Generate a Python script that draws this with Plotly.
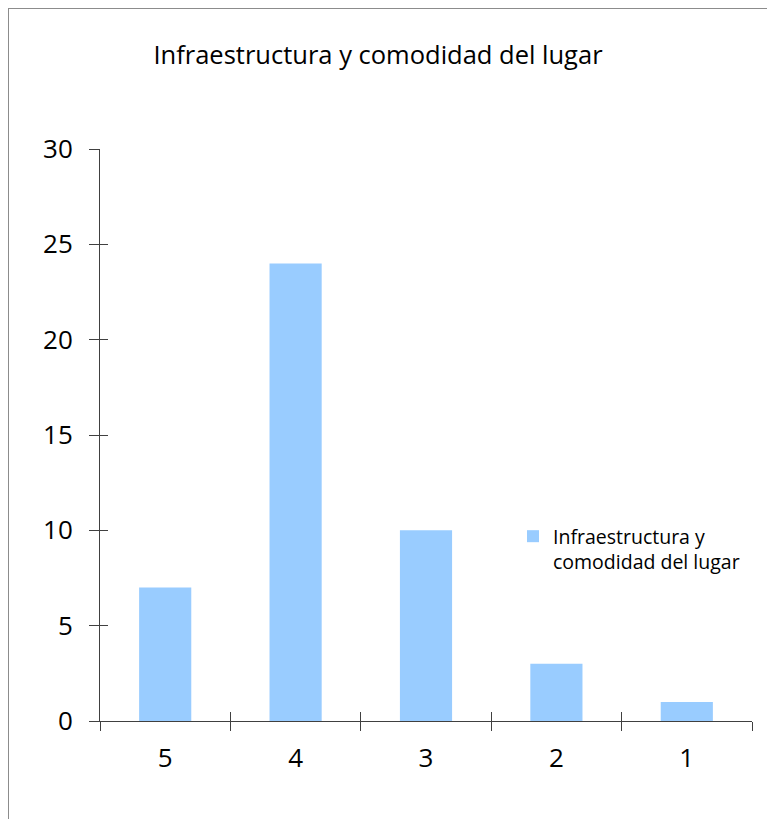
import plotly.graph_objects as go

# data
categories = ["5", "4", "3", "2", "1"]
values = [7, 24, 10, 3, 1]
series_name = "Infraestructura y comodidad del lugar"
legend_name = "Infraestructura y<br>comodidad del lugar"
y_ticks = [0, 5, 10, 15, 20, 25, 30]

W, H = 775, 819
OFF = 8  # page body margin, positions below are given in window pixels
font = "Open Sans"
axis_col = "#404040"


def px_x(x):
    return (x - OFF) / W


def px_y(y):
    return 1 - (y - OFF) / H


bar = go.Bar(
    x=categories,
    y=values,
    name=legend_name,
    marker=dict(color="#99CCFF", line=dict(width=0)),
    width=0.4,
    showlegend=True,
)

# invisible trace so the inside-tick axes exist
ghost = go.Scatter(x=categories, y=values, xaxis="x2", yaxis="y2",
                   mode="markers", marker=dict(opacity=0), showlegend=False,
                   hoverinfo="skip")

x_dom = [px_x(100), px_x(752)]
y_dom = [px_y(721), px_y(149)]

layout = dict(
    width=W,
    height=H,
    margin=dict(l=0, r=0, t=0, b=0, pad=0, autoexpand=False),
    paper_bgcolor="white",
    plot_bgcolor="white",
    font=dict(family=font, color="black"),
    title=dict(
        text=series_name,
        font=dict(size=25.5, family=font, color="black"),
        x=px_x(378), xanchor="center",
        y=px_y(55), yanchor="middle",
    ),
    xaxis=dict(
        domain=x_dom,
        type="category",
        range=[-0.5, 4.5],
        showline=True, linecolor=axis_col, linewidth=1,
        ticks="outside", tickson="boundaries", ticklen=9,
        tickcolor=axis_col, tickwidth=1,
        tickfont=dict(size=26, family=font, color="black"),
        ticklabelstandoff=14,
        showgrid=False, zeroline=False, automargin=False,
    ),
    yaxis=dict(
        domain=y_dom,
        range=[0, 30],
        tickvals=y_ticks,
        showline=True, linecolor=axis_col, linewidth=1,
        ticks="outside", ticklen=10, tickcolor=axis_col, tickwidth=1,
        tickfont=dict(size=26, family=font, color="black"),
        ticklabelstandoff=11,
        showgrid=False, zeroline=False, automargin=False,
    ),
    xaxis2=dict(
        domain=x_dom, anchor="y2", overlaying="x",
        type="category", range=[-0.5, 4.5],
        ticks="inside", tickson="boundaries", ticklen=9,
        tickcolor=axis_col, tickwidth=1, automargin=False,
        showticklabels=False, showgrid=False, zeroline=False, showline=False,
    ),
    yaxis2=dict(
        domain=y_dom, anchor="x2", overlaying="y",
        range=[0, 30], tickvals=y_ticks, automargin=False,
        ticks="inside", ticklen=8, tickcolor=axis_col, tickwidth=1,
        showticklabels=False, showgrid=False, zeroline=False, showline=False,
    ),
    legend=dict(
        x=px_x(513), xanchor="left",
        y=px_y(517), yanchor="top",
        valign="top",
        font=dict(size=19.5, family=font, color="black"),
        bgcolor="rgba(0,0,0,0)",
        itemwidth=30,
    ),
    shapes=[
        # chart frame (top and left edges)
        dict(type="line", xref="paper", yref="paper",
             x0=0, x1=1, y0=1 - 0.5 / H, y1=1 - 0.5 / H,
             line=dict(color="#8c8c8c", width=1)),
        dict(type="line", xref="paper", yref="paper",
             x0=0.5 / W, x1=0.5 / W, y0=0, y1=1,
             line=dict(color="#8c8c8c", width=1)),
    ],
)

fig = go.Figure(data=[bar, ghost], layout=layout)
fig.write_html("out.html")
